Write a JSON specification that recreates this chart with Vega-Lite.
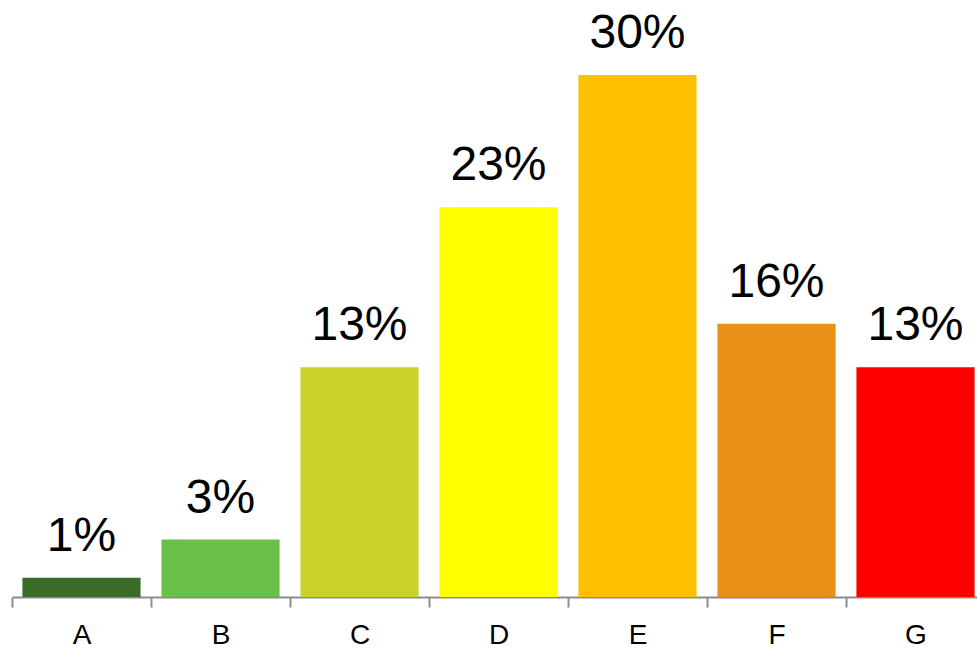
{
  "$schema": "https://vega.github.io/schema/vega-lite/v6.json",
  "width": 965,
  "height": 522,
  "autosize": {"type": "none"},
  "padding": {"left": 12, "top": 75, "right": 0, "bottom": 53},
  "background": "white",
  "config": {"view": {"stroke": null}},
  "data": {
    "values": [
      {"cat": "A", "value": 1.1, "label": "1%", "color": "#3a6b27"},
      {"cat": "B", "value": 3.3, "label": "3%", "color": "#6abf4b"},
      {"cat": "C", "value": 13.2, "label": "13%", "color": "#cbd32b"},
      {"cat": "D", "value": 22.4, "label": "23%", "color": "#ffff00"},
      {"cat": "E", "value": 30, "label": "30%", "color": "#ffc000"},
      {"cat": "F", "value": 15.7, "label": "16%", "color": "#e99018"},
      {"cat": "G", "value": 13.2, "label": "13%", "color": "#ff0000"}
    ]
  },
  "encoding": {
    "x": {
      "field": "cat",
      "type": "nominal",
      "scale": {"range": [0, 973], "paddingInner": 0.15, "paddingOuter": 0.075},
      "axis": {
        "title": null,
        "labelAngle": 0,
        "labelFont": "Liberation Sans",
        "labelFontSize": 28,
        "labelColor": "black",
        "labelPadding": 14,
        "bandPosition": 0,
        "tickOffset": -10.4,
        "labelOffset": 10.4,
        "tickSize": 10,
        "tickColor": "#8c8c8c",
        "tickWidth": 2,
        "domainColor": "#8c8c8c",
        "domainWidth": 2,
        "grid": false
      }
    },
    "y": {
      "field": "value",
      "type": "quantitative",
      "scale": {"domain": [0, 30], "nice": false},
      "axis": null
    }
  },
  "layer": [
    {
      "mark": {"type": "bar"},
      "encoding": {
        "color": {"field": "color", "type": "nominal", "scale": null, "legend": null}
      }
    },
    {
      "mark": {"type": "text", "baseline": "alphabetic", "dy": -27, "font": "Liberation Sans", "fontSize": 48, "color": "black"},
      "encoding": {"text": {"field": "label"}}
    }
  ]
}
